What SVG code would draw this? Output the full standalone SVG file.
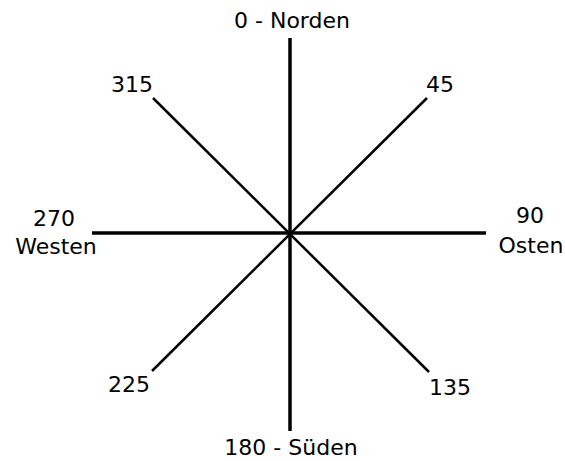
<svg xmlns="http://www.w3.org/2000/svg" width="565" height="461" viewBox="0 0 565 461">
<style>
text{font-family:"DejaVu Sans",sans-serif;font-size:22px;fill:#000}
.axis{stroke:#000;stroke-width:3.5}
.diag{stroke:#000;stroke-width:2.5}
</style>
<rect width="565" height="461" fill="#fff"/>
<g id="connectors">
<line class="axis" x1="290" y1="38" x2="290" y2="431"/>
<line class="axis" x1="92" y1="233" x2="486" y2="233"/>
<line class="diag" x1="153" y1="98" x2="429" y2="372"/>
<line class="diag" x1="427" y1="98" x2="152" y2="371"/>
</g>
<g id="n-nord"><text x="292" y="28" text-anchor="middle">0 - Norden</text></g>
<g id="n-315"><text x="111" y="92">315</text></g>
<g id="n-45"><text x="426" y="92">45</text></g>
<g id="n-west"><text x="54" y="226" text-anchor="middle">270</text><text x="56" y="254" text-anchor="middle">Westen</text></g>
<g id="n-ost"><text x="530" y="223" text-anchor="middle">90</text><text x="531" y="253" text-anchor="middle">Osten</text></g>
<g id="n-225"><text x="108" y="392">225</text></g>
<g id="n-135"><text x="429" y="395">135</text></g>
<g id="n-sued"><text x="291" y="455" text-anchor="middle">180 - Süden</text></g>
</svg>
